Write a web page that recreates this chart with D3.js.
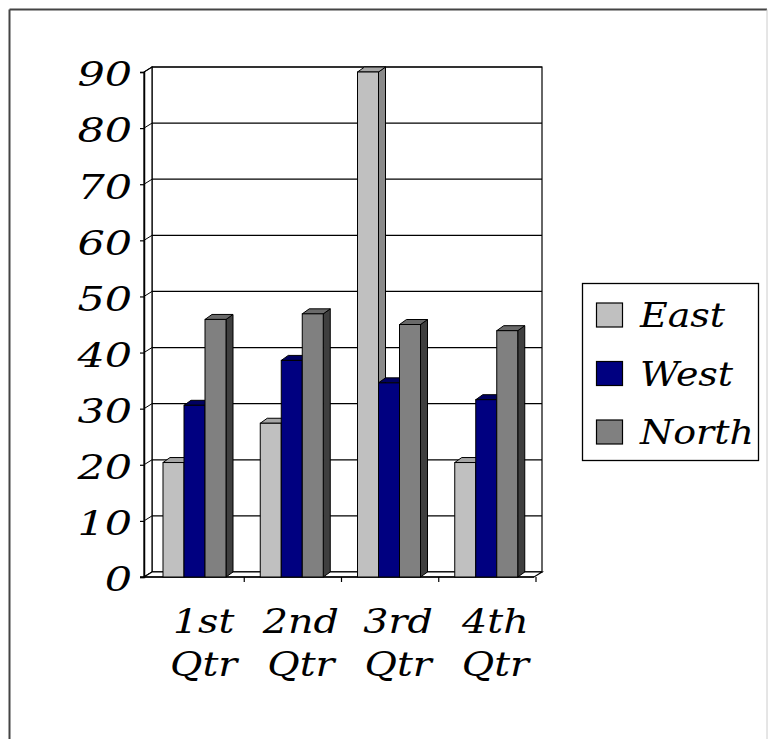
<!DOCTYPE html>
<html>
<head>
<meta charset="utf-8">
<script src="https://cdn.jsdelivr.net/npm/d3@7/dist/d3.min.js"></script>
<style>
  html, body { margin: 0; padding: 0; background: #fff; }
  svg { display: block; }
  text { font-family: "DejaVu Serif", serif; font-style: italic; fill: #000; }
</style>
</head>
<body>
<script>
// Quarterly sales by region
const categories = ["1st Qtr", "2nd Qtr", "3rd Qtr", "4th Qtr"];
const seriesNames = ["East", "West", "North"];
const east = [20.4, 27.4, 90, 20.4];
const west = [30.6, 38.6, 34.6, 31.6];
const north = [45.9, 46.9, 45, 43.9];
const yTicks = [0, 10, 20, 30, 40, 50, 60, 70, 80, 90];

const seriesValues = [east, west, north];
const palette = {
  East:  { front: "#c0c0c0", top: "#a6a6a6", side: "#8a8a8a" },
  West:  { front: "#000080", top: "#000060", side: "#000040" },
  North: { front: "#808080", top: "#6a6a6a", side: "#3f3f3f" }
};

const W = 770, H = 739;
const svg = d3.select("body").append("svg").attr("width", W).attr("height", H);

// outer frame
svg.append("line").attr("x1", 9.5).attr("y1", 9.5).attr("x2", 767).attr("y2", 9.5)
  .attr("stroke", "#444").attr("stroke-width", 2);
svg.append("line").attr("x1", 9.5).attr("y1", 9.5).attr("x2", 9.5).attr("y2", H)
  .attr("stroke", "#444").attr("stroke-width", 2);
svg.append("line").attr("x1", 767).attr("y1", 9.5).attr("x2", 767).attr("y2", H)
  .attr("stroke", "#ccc").attr("stroke-width", 1);

// 3D geometry: depth offset of the back wall relative to the front plane
const DX = 8, DY = -5;      // wall depth
const BDX = 7, BDY = -5;    // bar depth

const y = d3.scaleLinear().domain([0, 90]).range([577, 72]);
const x0 = d3.scaleBand().domain(categories).range([147, 536]).padding(0);
const x1 = d3.scaleBand().domain(seriesNames).range([16, 79]).padding(0);

const axisX = 144;            // front vertical axis
const wallL = axisX + DX;     // back wall left edge
const wallR = 542;            // back wall right edge
const floorR = wallR - DX;    // front floor right end

const walls = svg.append("g");
// back wall
walls.append("rect")
  .attr("x", wallL).attr("y", y(90) + DY)
  .attr("width", wallR - wallL).attr("height", y(0) - y(90))
  .attr("fill", "#fff").attr("stroke", "#000").attr("stroke-width", 1.2);
// gridlines on the back wall
walls.selectAll("line.grid").data(yTicks).join("line")
  .attr("class", "grid")
  .attr("x1", wallL).attr("x2", wallR)
  .attr("y1", d => y(d) + DY).attr("y2", d => y(d) + DY)
  .attr("stroke", "#000").attr("stroke-width", 1.2);
// side wall
walls.append("path")
  .attr("d", `M${axisX},${y(0)}L${wallL},${y(0) + DY}L${wallL},${y(90) + DY}L${axisX},${y(90)}Z`)
  .attr("fill", "#fff").attr("stroke", "#000").attr("stroke-width", 1.2);
walls.selectAll("line.sgrid").data(yTicks).join("line")
  .attr("class", "sgrid")
  .attr("x1", axisX).attr("x2", wallL)
  .attr("y1", d => y(d)).attr("y2", d => y(d) + DY)
  .attr("stroke", "#000").attr("stroke-width", 1);
// floor
walls.append("path")
  .attr("d", `M${axisX},${y(0)}L${wallL},${y(0) + DY}L${wallR},${y(0) + DY}L${floorR},${y(0)}Z`)
  .attr("fill", "#fff").attr("stroke", "#000").attr("stroke-width", 1.2);

// value axis on the front edge
const yAxis = d3.axisLeft(y).tickValues(yTicks).tickSize(4).tickFormat(d3.format("d"));
const yg = svg.append("g").attr("transform", `translate(${axisX},0)`).call(yAxis);
yg.select(".domain").attr("stroke", "#000").attr("stroke-width", 1.5);
yg.selectAll(".tick line").attr("stroke", "#000").attr("stroke-width", 1.2);
yg.selectAll(".tick text")
  .attr("x", -12).attr("dy", "0.42em")
  .style("font-size", "33px").style("font-family", "'DejaVu Serif', serif")
  .style("font-style", "italic").attr("fill", "#000");

// category axis along the front floor edge
const boundaries = categories.map(c => x0(c)).concat([x0.range()[1]]);
svg.append("line").attr("x1", axisX - 4).attr("x2", floorR)
  .attr("y1", y(0)).attr("y2", y(0)).attr("stroke", "#000").attr("stroke-width", 1.5);
svg.selectAll("line.ctick").data(boundaries.slice(1)).join("line")
  .attr("class", "ctick")
  .attr("x1", d => d).attr("x2", d => d)
  .attr("y1", y(0)).attr("y2", y(0) + 5)
  .attr("stroke", "#000").attr("stroke-width", 1.2);

// bars: front, top and side faces
const bars = svg.append("g");
categories.forEach((cat, ci) => {
  seriesNames.forEach((s, si) => {
    const v = seriesValues[si][ci];
    const bx = x0(cat) + x1(s);
    const bw = x1.bandwidth();
    const yt = y(v), yb = y(0);
    const col = palette[s];
    const g = bars.append("g");
    g.append("path")
      .attr("d", `M${bx + bw},${yt}L${bx + bw + BDX},${yt + BDY}L${bx + bw + BDX},${yb + BDY}L${bx + bw},${yb}Z`)
      .attr("fill", col.side).attr("stroke", "#000").attr("stroke-width", 1);
    g.append("path")
      .attr("d", `M${bx},${yt}L${bx + BDX},${yt + BDY}L${bx + bw + BDX},${yt + BDY}L${bx + bw},${yt}Z`)
      .attr("fill", col.top).attr("stroke", "#000").attr("stroke-width", 1);
    g.append("rect")
      .attr("x", bx).attr("y", yt).attr("width", bw).attr("height", yb - yt)
      .attr("fill", col.front).attr("stroke", "#000").attr("stroke-width", 1);
  });
});

// stretch text horizontally to the wide calligraphic proportions
function stretch(sel, f) {
  sel.each(function () {
    const len = this.getComputedTextLength();
    d3.select(this).attr("textLength", len * f).attr("lengthAdjust", "spacingAndGlyphs");
  });
}
stretch(yg.selectAll(".tick text"), 1.3);

// category labels (two lines)
const catLabels = svg.append("g");
categories.forEach(cat => {
  const cx = x0(cat) + x0.bandwidth() / 2 + 8;
  const parts = cat.split(" ");
  parts.forEach((p, i) => {
    catLabels.append("text")
      .attr("x", cx).attr("y", 633 + i * 43)
      .attr("text-anchor", "middle")
      .style("font-size", "33px")
      .text(p);
  });
});
stretch(catLabels.selectAll("text"), 1.2);

// legend
const legend = svg.append("g");
legend.append("rect").attr("x", 582.5).attr("y", 283.5).attr("width", 176).attr("height", 177)
  .attr("fill", "#fff").attr("stroke", "#000").attr("stroke-width", 1.3);
seriesNames.forEach((s, i) => {
  const cy = 315 + i * 58.5;
  legend.append("rect").attr("x", 596.5).attr("y", cy - 12).attr("width", 26).attr("height", 24)
    .attr("fill", palette[s].front).attr("stroke", "#000").attr("stroke-width", 1.2);
  legend.append("text").attr("x", 640).attr("y", cy + 12)
    .style("font-size", "33px").text(s);
});
stretch(legend.selectAll("text"), 1.15);
</script>
</body>
</html>
